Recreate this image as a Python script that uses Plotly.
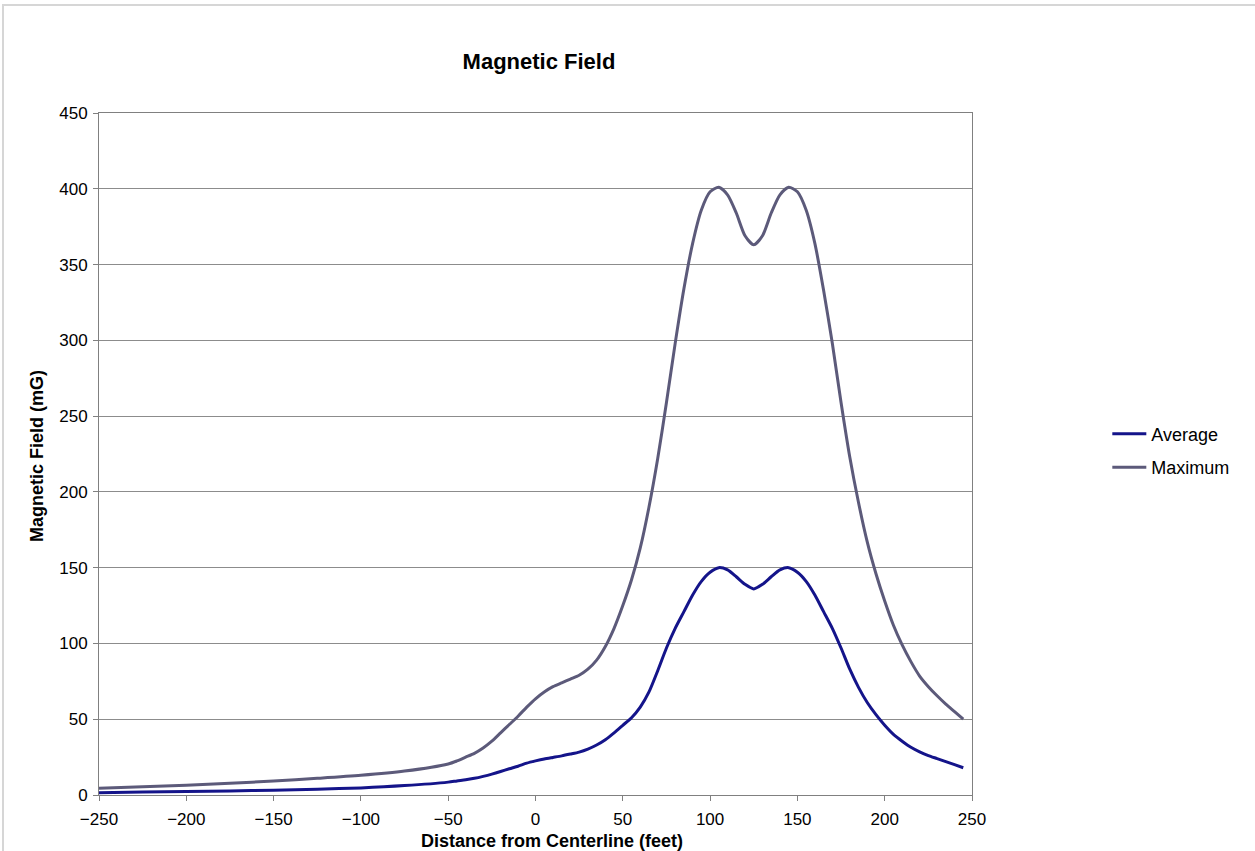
import plotly.graph_objects as go

# distance from centerline (feet)
distance = [-250, -225, -200, -175, -150, -125, -100, -75,
            -50, -45, -40, -35, -30, -25, -20, -15, -10, -5,
            0, 5, 10, 15, 20, 25, 30, 35, 40, 45,
            50, 55, 60, 65, 70, 75, 80, 85, 90, 95,
            100, 105, 110, 115, 120, 125, 130, 135, 140, 145,
            150, 155, 160, 165, 170, 175, 180, 185, 190, 195,
            200, 205, 210, 215, 220, 225, 230, 235, 240, 245]

# magnetic field (mG)
average = [1.5, 2.0, 2.3, 2.7, 3.2, 3.8, 4.7, 6.2,
           8.5, 9.3, 10.0, 11.0, 12.3, 13.8, 15.5, 17.3, 19.0, 21.0,
           22.5, 23.8, 24.8, 25.8, 27.0, 28.3, 30.3, 33.0, 36.5, 41.0,
           46.0, 51.0, 58.0, 68.0, 82.0, 97.0, 110.0, 121.0, 132.0, 141.0,
           147.0, 150.0, 148.5, 144.0, 139.0, 136.0, 139.0, 144.0, 148.5, 150.0,
           147.0, 141.0, 132.0, 121.0, 110.0, 97.0, 83.0, 71.0, 61.0, 53.0,
           46.0, 40.0, 35.5, 31.5, 28.5, 26.0, 24.0, 22.0, 20.0, 18.0]

maximum = [4.5, 5.5, 6.5, 7.8, 9.2, 11.0, 13.0, 15.8,
           20.5, 22.5, 25.0, 27.5, 31.0, 35.5, 41.0, 46.5, 52.0, 58.0,
           63.5, 68.0, 71.5, 74.0, 76.5, 79.0, 83.0, 89.0, 98.0, 110.0,
           125.0, 142.0, 163.0, 190.0, 222.0, 259.0, 298.0, 334.0, 364.0, 386.0,
           398.0, 401.0, 396.0, 384.0, 369.0, 363.0, 369.0, 384.0, 396.0, 401.0,
           398.0, 386.0, 364.0, 333.0, 298.0, 259.0, 223.0, 193.0, 167.0, 146.0,
           128.0, 112.0, 99.0, 88.0, 78.5, 71.5, 65.5, 60.0, 55.0, 50.0]

FONT = 'Arial, Liberation Sans, sans-serif'
W, H = 1255, 851

fig = go.Figure()
fig.add_trace(go.Scatter(x=distance, y=average, name='Average', mode='lines',
                         line=dict(color='#14148a', width=3, shape='spline', smoothing=0.7),
                         legendgroup='a'))
fig.add_trace(go.Scatter(x=distance, y=maximum, name='Maximum', mode='lines',
                         line=dict(color='#5c5a7a', width=3, shape='spline', smoothing=0.7),
                         legendgroup='b'))

tick_font = dict(family=FONT, size=17, color='black')

fig.update_layout(
    width=W, height=H,
    margin=dict(l=99, r=283, t=113, b=56),
    paper_bgcolor='white', plot_bgcolor='white',
    font=dict(family=FONT, size=17, color='black'),
    title=dict(text='<b>Magnetic Field</b>', x=539 / W,
               xanchor='center', y=1 - 61 / H, yanchor='middle',
               font=dict(family=FONT, size=22, color='black')),
    legend=dict(x=1.155, y=0.505, xanchor='left', yanchor='middle',
                font=dict(family=FONT, size=18, color='black'),
                tracegroupgap=7, itemwidth=34, bgcolor='rgba(0,0,0,0)'),
    showlegend=True,
    annotations=[
        dict(text='<b>Distance from Centerline (feet)</b>', xref='paper', yref='paper',
             x=0.519, y=-0.0675, xanchor='center', yanchor='middle', showarrow=False,
             font=dict(family=FONT, size=18, color='black')),
        dict(text='<b>Magnetic Field (mG)</b>', xref='paper', yref='paper',
             x=-0.071, y=0.497, xanchor='center', yanchor='middle', showarrow=False,
             textangle=-90, font=dict(family=FONT, size=18, color='black')),
    ],
    shapes=[
        dict(type='rect', xref='paper', yref='paper',
             x0=(3 - 99) / 873, x1=(1262 - 99) / 873,
             y0=-(860 - 795) / 682, y1=(795 - 5) / 682,
             line=dict(color='#d6d6d6', width=2), layer='below'),
    ],
)

fig.update_xaxes(
    range=[-250, 250], tickmode='linear', tick0=-250, dtick=50,
    showgrid=False, zeroline=False, automargin=False,
    showline=True, linecolor='#808080', linewidth=1, mirror=True,
    ticks='outside', ticklen=5, tickcolor='#808080',
    ticklabelstandoff=4, tickfont=tick_font,
)
fig.update_yaxes(
    range=[0, 450], tickmode='linear', tick0=0, dtick=50,
    showgrid=True, gridcolor='#8c8c8c', gridwidth=1, zeroline=False, automargin=False,
    showline=True, linecolor='#808080', linewidth=1, mirror=True,
    ticks='outside', ticklen=5, tickcolor='#808080',
    ticklabelstandoff=2, tickfont=tick_font,
)

fig.write_html("out.html", config={'displayModeBar': False},
               post_script="document.body.style.margin='0';")
